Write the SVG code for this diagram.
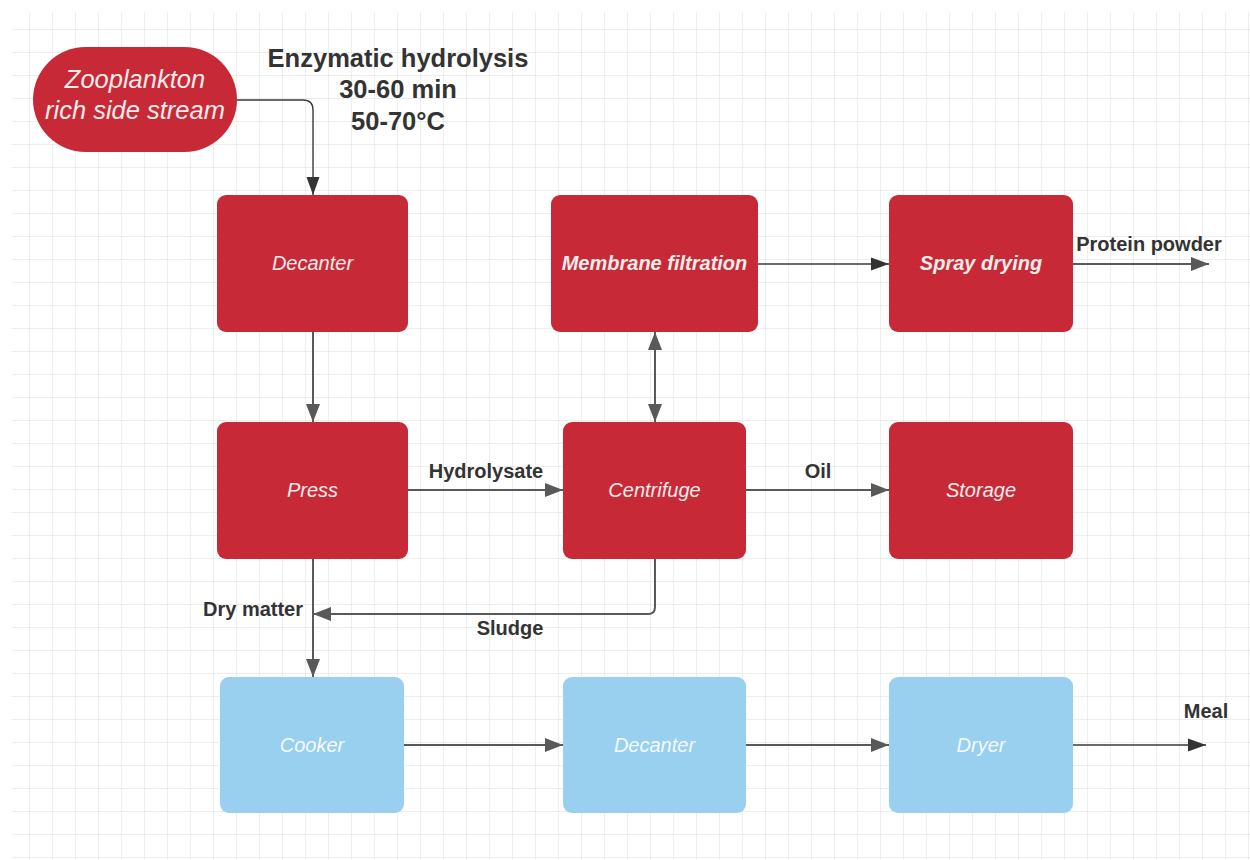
<svg xmlns="http://www.w3.org/2000/svg" width="1250" height="860" viewBox="0 0 1250 860">
  <style>
    .red { fill: #C72A36; }
    .blue { fill: #99CFEF; }
    .ntxt { font-family: "Liberation Sans", Arial, sans-serif; font-style: italic; font-size: 20px; fill: #F6ECEC; text-anchor: middle; }
    .btxt { font-family: "Liberation Sans", Arial, sans-serif; font-style: italic; font-size: 20px; fill: #F4FAFE; text-anchor: middle; }
    .bold { font-weight: bold; }
    .lbl { font-family: "Liberation Sans", Arial, sans-serif; font-weight: bold; font-size: 20px; fill: #333333; text-anchor: middle; }
    .title { font-family: "Liberation Sans", Arial, sans-serif; font-weight: bold; font-size: 25.5px; fill: #333333; text-anchor: middle; }
    .conn { fill: none; stroke: #595959; stroke-width: 2; }
    .thin { fill: none; stroke: #3a3a3a; stroke-width: 1.4; }
  </style>
  <defs>
    <pattern id="grid" x="7" y="7" width="23" height="23" patternUnits="userSpaceOnUse">
      <path d="M23 0 V23 M0 23 H23" fill="none" stroke="#DCDCDC" stroke-width="1"/>
    </pattern>
    <marker id="arr" markerUnits="userSpaceOnUse" markerWidth="20" markerHeight="16" refX="18" refY="8" orient="auto">
      <path d="M0 1 L18 8 L0 15 Z" fill="#595959"/>
    </marker>
    <marker id="arrs" markerUnits="userSpaceOnUse" markerWidth="20" markerHeight="16" refX="18" refY="8" orient="auto-start-reverse">
      <path d="M0 1 L18 8 L0 15 Z" fill="#595959"/>
    </marker>
    <marker id="arrd" markerUnits="userSpaceOnUse" markerWidth="20" markerHeight="16" refX="18" refY="8" orient="auto">
      <path d="M0 1.5 L18 8 L0 14.5 Z" fill="#333333"/>
    </marker>
  </defs>

  <rect x="0" y="0" width="1250" height="860" fill="#ffffff"/>
  <rect x="12" y="12" width="1238" height="848" fill="url(#grid)"/>

  <g id="connectors">
    <path class="thin" d="M237 100 H303 Q313 100 313 110 V195" marker-end="url(#arrd)"/>
    <path class="conn" d="M313 332 V422" marker-end="url(#arr)"/>
    <path class="conn" d="M408 490 H563" marker-end="url(#arr)"/>
    <path class="conn" d="M746 490 H889" marker-end="url(#arr)"/>
    <path class="conn" d="M655 422 V332" marker-start="url(#arrs)" marker-end="url(#arrs)"/>
    <path class="thin" d="M758 264 H889" marker-end="url(#arrd)"/>
    <path class="conn" d="M1073 264 H1209" marker-end="url(#arr)"/>
    <path class="conn" d="M313 559 V677" marker-end="url(#arr)"/>
    <path class="conn" d="M655 559 V607 Q655 614 648 614 H313" marker-end="url(#arr)"/>
    <path class="conn" d="M404 745 H563" marker-end="url(#arr)"/>
    <path class="conn" d="M746 745 H889" marker-end="url(#arr)"/>
    <path class="thin" d="M1073 745 H1206" marker-end="url(#arrd)"/>
  </g>

  <g id="labels">
    <text class="title" x="398" y="67">Enzymatic hydrolysis</text>
    <text class="title" x="398" y="98">30-60 min</text>
    <text class="title" x="398" y="130">50-70°C</text>
    <text class="lbl" x="486" y="478">Hydrolysate</text>
    <text class="lbl" x="818" y="478">Oil</text>
    <text class="lbl" x="1149" y="251">Protein powder</text>
    <text class="lbl" x="253" y="616">Dry matter</text>
    <text class="lbl" x="510" y="635">Sludge</text>
    <text class="lbl" x="1206" y="718">Meal</text>
  </g>

  <g id="zooplankton">
    <rect class="red" x="33" y="47" width="204" height="105" rx="52.5"/>
    <text class="ntxt" style="font-size:25.5px" x="135" y="88">Zooplankton</text>
    <text class="ntxt" style="font-size:25.5px" x="135" y="119">rich side stream</text>
  </g>
  <g id="decanter1">
    <rect class="red" x="217" y="195" width="191" height="137" rx="9"/>
    <text class="ntxt" x="312.5" y="270">Decanter</text>
  </g>
  <g id="membrane">
    <rect class="red" x="551" y="195" width="207" height="137" rx="9"/>
    <text class="ntxt bold" x="654.5" y="270">Membrane filtration</text>
  </g>
  <g id="spray">
    <rect class="red" x="889" y="195" width="184" height="137" rx="9"/>
    <text class="ntxt bold" x="981" y="270">Spray drying</text>
  </g>
  <g id="press">
    <rect class="red" x="217" y="422" width="191" height="137" rx="9"/>
    <text class="ntxt" x="312.5" y="497">Press</text>
  </g>
  <g id="centrifuge">
    <rect class="red" x="563" y="422" width="183" height="137" rx="9"/>
    <text class="ntxt" x="654.5" y="497">Centrifuge</text>
  </g>
  <g id="storage">
    <rect class="red" x="889" y="422" width="184" height="137" rx="9"/>
    <text class="ntxt" x="981" y="497">Storage</text>
  </g>
  <g id="cooker">
    <rect class="blue" x="220" y="677" width="184" height="136" rx="9"/>
    <text class="btxt" x="312" y="752">Cooker</text>
  </g>
  <g id="decanter2">
    <rect class="blue" x="563" y="677" width="183" height="136" rx="9"/>
    <text class="btxt" x="654.5" y="752">Decanter</text>
  </g>
  <g id="dryer">
    <rect class="blue" x="889" y="677" width="184" height="136" rx="9"/>
    <text class="btxt" x="981" y="752">Dryer</text>
  </g>
</svg>
